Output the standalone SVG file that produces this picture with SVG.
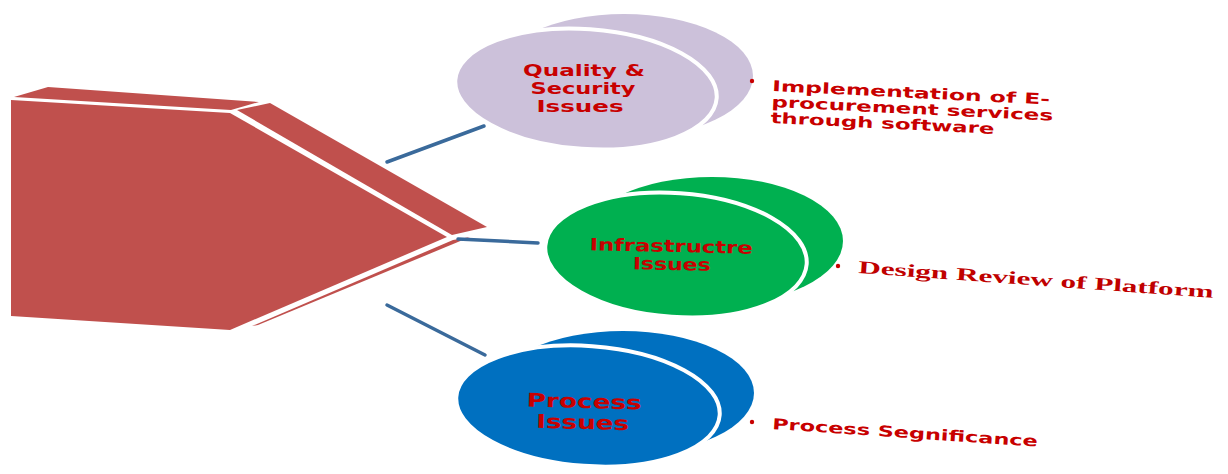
<svg xmlns="http://www.w3.org/2000/svg" width="1228" height="474" viewBox="0 0 1228 474">
<style>
.pent{fill:#C0504D}
.conn{stroke:#3A6A9B;stroke-width:3.5;fill:none;stroke-linecap:round}
.gap{stroke:#FFFFFF;stroke-width:4}
.lab{font-family:"DejaVu Sans",sans-serif;font-weight:bold;fill:#C80000;text-anchor:middle}
.side{font-family:"DejaVu Sans",sans-serif;font-weight:bold;fill:#C80000;font-size:15px}
.serif{font-family:"Liberation Serif",serif;font-weight:bold;fill:#C00000;font-size:18px}
.dot{fill:#C80000}
</style>
<rect width="1228" height="474" fill="#FFFFFF"/>
<g id="main-shape">
  <polygon class="pent" points="14,97 48,87 259,102 231,110"/>
  <polygon class="pent" points="237,110 270,103 487,227 452,235"/>
  <polygon class="pent" points="453,240 470,237 258,325 252,326"/>
  <polygon class="pent" points="11,100 230,113 447,237 230,330 11,316"/>
</g>
<g id="connectors">
  <line class="conn" x1="387" y1="162" x2="484" y2="126"/>
  <line class="conn" x1="458" y1="239" x2="538" y2="243"/>
  <line class="conn" x1="387" y1="305" x2="485" y2="355"/>
</g>
<g id="node-quality">
  <ellipse cx="624" cy="76" rx="129" ry="62" fill="#CCC1DA"/>
  <ellipse class="gap" cx="586" cy="89" rx="131" ry="60" fill="#CCC1DA" transform="rotate(4 586 89)"/>
  <text class="lab" font-size="16"><tspan x="584" y="76" textLength="122" lengthAdjust="spacingAndGlyphs">Quality &amp;</tspan><tspan x="583" y="94" textLength="105" lengthAdjust="spacingAndGlyphs">Security</tspan><tspan x="580" y="112" textLength="87" lengthAdjust="spacingAndGlyphs">Issues</tspan></text>
</g>
<g id="node-quality-note">
  <circle class="dot" cx="752" cy="81" r="2.2"/>
  <g transform="rotate(2.8 772 91)">
    <text class="side" x="772" y="91" textLength="278" lengthAdjust="spacingAndGlyphs">Implementation of E-</text>
    <text class="side" x="772" y="107" textLength="282" lengthAdjust="spacingAndGlyphs">procurement services</text>
    <text class="side" x="772" y="123" textLength="224" lengthAdjust="spacingAndGlyphs">through software</text>
  </g>
</g>
<g id="node-infra">
  <ellipse cx="712" cy="241" rx="131" ry="64" fill="#00B050"/>
  <ellipse class="gap" cx="676" cy="255" rx="131" ry="62" fill="#00B050" transform="rotate(4 676 255)"/>
  <g transform="rotate(1.2 671 252)">
    <text class="lab" font-size="17"><tspan x="671" y="252" textLength="163" lengthAdjust="spacingAndGlyphs">Infrastructre</tspan><tspan x="672" y="270" textLength="78" lengthAdjust="spacingAndGlyphs">Issues</tspan></text>
  </g>
</g>
<g id="node-infra-note">
  <circle class="dot" cx="838" cy="266" r="2.2"/>
  <text class="serif" x="858" y="273" textLength="356" lengthAdjust="spacingAndGlyphs" transform="rotate(4 858 273)">Design Review of Platform</text>
</g>
<g id="node-process">
  <ellipse cx="623" cy="393" rx="131" ry="62" fill="#0070C0"/>
  <ellipse class="gap" cx="588" cy="406" rx="132" ry="60" fill="#0070C0" transform="rotate(4 588 406)"/>
  <g transform="rotate(1.5 584 409)">
    <text class="lab" font-size="19"><tspan x="584" y="408" textLength="115" lengthAdjust="spacingAndGlyphs">Process</tspan><tspan x="583" y="429" textLength="93" lengthAdjust="spacingAndGlyphs">Issues</tspan></text>
  </g>
</g>
<g id="node-process-note">
  <circle class="dot" cx="752" cy="422" r="2.2"/>
  <text class="side" x="772" y="429" textLength="266" lengthAdjust="spacingAndGlyphs" transform="rotate(3.8 772 429)">Process Segnificance</text>
</g>
</svg>
